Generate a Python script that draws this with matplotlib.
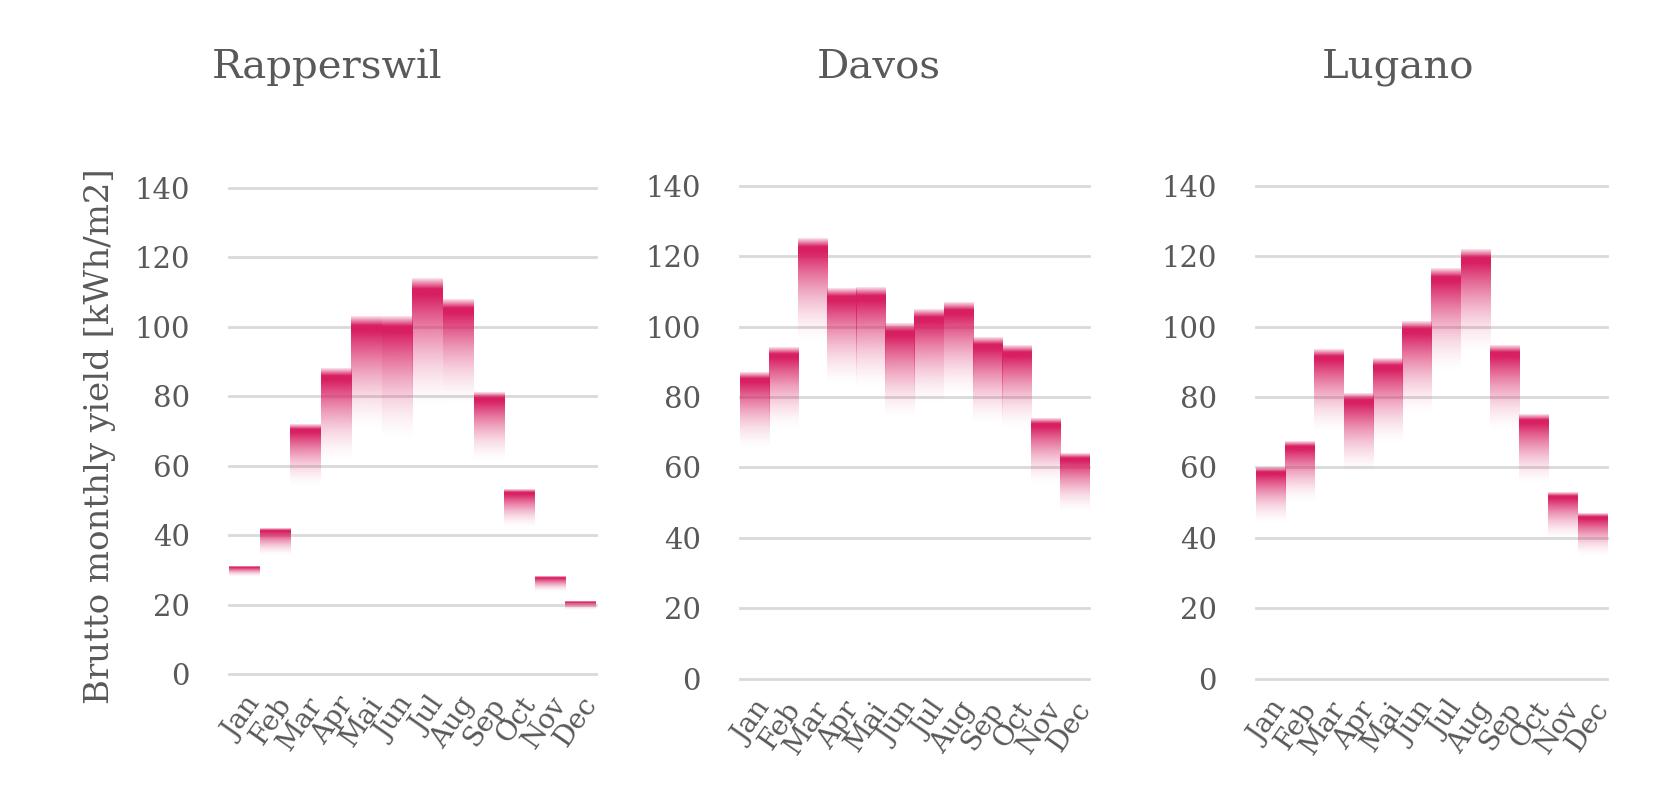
import numpy as np
import matplotlib.pyplot as plt

# monthly brutto yield, top of each bar and the level where its fade ends (kWh/m2)
months = ['Jan', 'Feb', 'Mar', 'Apr', 'Mai', 'Jun', 'Jul', 'Aug', 'Sep', 'Oct', 'Nov', 'Dec']
cities = ['Rapperswil', 'Davos', 'Lugano']

rapperswil_top = [31, 42, 72, 88, 103, 103, 114, 108, 81, 53, 28, 21]
rapperswil_low = [28, 34, 54, 61, 70, 67, 76, 77, 61, 42, 23.5, 18.5]

davos_top = [87, 94, 125, 111, 111, 101, 105, 107, 97, 94.5, 74, 64]
davos_low = [65, 70.5, 95, 83, 82, 73.5, 77.5, 80, 72, 70.5, 55, 47]

lugano_top = [60, 67.5, 93.5, 81, 91, 101.5, 116.5, 122, 94.5, 75, 53, 47]
lugano_low = [44, 50, 69.5, 58, 66, 74.5, 86.5, 92, 70, 55, 39.5, 34.5]

yticks = [0, 20, 40, 60, 80, 100, 120, 140]

text_color = '#595959'
grid_color = '#d9d9d9'
bar_rgb = np.array([216, 31, 98]) / 255

plt.rcParams['font.family'] = ['DejaVu Serif']

# vertical alpha profile of one bar, row 0 is the top
n = 300
t = np.linspace(0, 1, n)
alpha = np.where(t < 0.08, 0.12 + 0.88 * t / 0.08, 1.0)
alpha = np.where(t > 0.13, ((1 - t) / 0.87) ** 1.7, alpha)
gradient = np.zeros((n, 1, 4))
gradient[:, 0, :3] = bar_rgb
gradient[:, 0, 3] = alpha

W, H = 1658, 793
fig = plt.figure(figsize=(W / 100, H / 100), dpi=100)

# axes boxes in pixels: left, right, y of 0, y of 140
boxes = [(229, 596, 674, 188), (740, 1089, 678.5, 186), (1256, 1607, 678.5, 186)]
title_x = [327, 879, 1398]
tops = [rapperswil_top, davos_top, lugano_top]
lows = [rapperswil_low, davos_low, lugano_low]

for k in range(3):
    x0, x1, yb, yt = boxes[k]
    ax = fig.add_axes([x0 / W, 1 - yb / H, (x1 - x0) / W, (yb - yt) / H])
    for i in range(12):
        ax.imshow(gradient, extent=(i - 0.5, i + 0.5, lows[k][i], tops[k][i]),
                  aspect='auto', interpolation='bilinear', zorder=2)
    ax.set_xlim(-0.5, 11.5)
    ax.set_ylim(0, 140)
    ax.set_yticks(yticks)
    ax.yaxis.grid(True, color=grid_color, linewidth=2)
    for gl in ax.get_ygridlines():
        gl.set_clip_on(False)
    for s in ax.spines.values():
        s.set_visible(False)
    ax.tick_params(axis='y', length=0, pad=28, labelsize=21, labelcolor=text_color)
    ax.set_xticks(range(12))
    ax.set_xticklabels(months, rotation=55, ha='right', rotation_mode='anchor')
    ax.tick_params(axis='x', length=0, pad=13, labelsize=20, labelcolor=text_color)
    fig.text(title_x[k] / W, 1 - 78 / H, cities[k], ha='center', va='baseline',
             fontsize=29, color=text_color)

fig.text(100 / W, 1 - 436 / H, 'Brutto monthly yield [kWh/m2]', rotation=90,
         ha='center', va='center', fontsize=24.5, color=text_color)

fig.savefig('out.png', dpi=100)
